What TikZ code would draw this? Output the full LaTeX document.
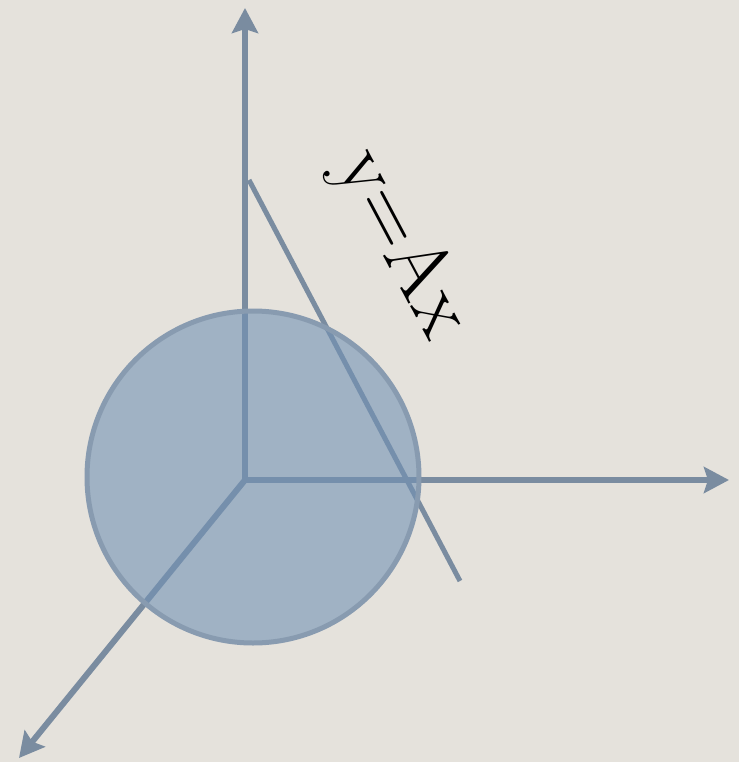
\documentclass[tikz,border=0pt]{standalone}
\usepackage{fontspec}
\usepackage{xcolor}
\usetikzlibrary{arrows.meta}

\definecolor{paper}{RGB}{229,226,220}
\definecolor{axisblue}{RGB}{122,140,160}
\definecolor{ballblue}{RGB}{114,146,180}
\definecolor{rimblue}{RGB}{136,155,176}

\begin{document}
\begin{tikzpicture}[
      x=0.5pt, y=-0.5pt,
      >={Stealth[length=12.5pt,width=13pt,inset=2pt]},
      axis/.style={->, line width=3pt, draw=axisblue},
      map/.style={line width=2.5pt, draw=axisblue},
      ball/.style={circle, draw=rimblue, line width=2.5pt, fill=ballblue,
        fill opacity=0.6, text opacity=1, inner sep=0pt, minimum size=166pt},
      eqn/.style={font=\fontsize{42}{42}\selectfont, text=black, inner sep=0pt}]
    \fill[paper] (0,0) rectangle (739,762);
    \useasboundingbox (0,0) rectangle (739,762);

    \coordinate (O) at (245,480);
    \coordinate (up) at (245,8);
    \coordinate (right) at (729,480);
    \coordinate (down) at (19,758);
    \coordinate (a) at (249,180);
    \coordinate (b) at (460,581);

    \draw[axis] (O) -- (up);
    \draw[axis] (O) -- (right);
    \draw[axis] (O) -- (down);
    \draw[map] (a) -- (b);

    \node[ball] (unit) at (253,477) {};
    \node[eqn, rotate=-62] (label) at (401,244) {y=Ax};
  \end{tikzpicture}
\end{document}
